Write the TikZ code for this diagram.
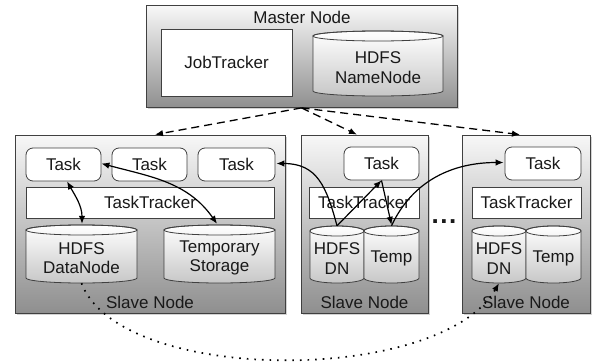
\documentclass[tikz,border=0pt]{standalone}
\usepackage{fontspec}
\setmainfont{Liberation Sans}
\usetikzlibrary{arrows.meta,shadows,calc}
\definecolor{edge}{gray}{0.25}
\definecolor{boxtop}{gray}{0.97}
\definecolor{boxbot}{gray}{0.56}
\definecolor{cyltop}{gray}{1}
\definecolor{cylbot}{gray}{0.78}
\definecolor{txt}{gray}{0.1}
\tikzset{
  every node/.style={font=\fontsize{17}{19.5}\selectfont, text=txt},
  container/.style={draw=edge, line width=0.8pt, top color=boxtop, bottom color=boxbot,
    drop shadow={shadow xshift=1.5pt, shadow yshift=-1.5pt, opacity=0.35}, inner sep=0pt},
  taskbox/.style={draw=edge, line width=0.8pt, fill=white, rounded corners=7pt, inner sep=0pt,
    minimum height=33pt},
  ttbox/.style={draw=edge, line width=0.8pt, fill=white, inner sep=0pt, minimum height=31pt},
  cylbody/.style={draw=edge, line width=0.8pt, top color=cyltop, bottom color=cylbot},
  cyltext/.style={align=center, inner sep=0pt},
  tipstyle/.style={-{Latex[length=8pt,width=6.5pt]}},
  dasharrow/.style={tipstyle, line width=1.3pt, dash pattern=on 8pt off 5pt, draw=black},
  solidarrow/.style={tipstyle, line width=1.2pt, draw=black},
  biarrow/.style={{Latex[length=8pt,width=6.5pt]}-{Latex[length=8pt,width=6.5pt]}, line width=1.2pt, draw=black},
  dotarrow/.style={tipstyle, line width=1.7pt, dash pattern=on 1.6pt off 6pt, draw=black},
}
% #1 name, #2 left, #3 top, #4 right, #5 bottom, #6 text
\newcommand\dbcyl[6]{%
  \path[cylbody] (#2,#3+5) -- (#2,#5-5)
    arc[start angle=180,end angle=0,x radius={(#4-#2)/2},y radius=5]
    -- (#4,#3+5)
    arc[start angle=0,end angle=-180,x radius={(#4-#2)/2},y radius=5] -- cycle;
  \draw[draw=edge, line width=0.8pt] ({(#2+#4)/2},#3+5) ellipse[x radius={(#4-#2)/2}, y radius=5];
  \node[cyltext, minimum width={(#4-#2)*1pt}, minimum height={(#5-#3)*1pt}] (#1) at ({(#2+#4)/2},{(#3+#5)/2}) {};
  \node[cyltext] (#1-label) at ({(#2+#4)/2},{(#3+#5)/2+4}) {#6};
}
\begin{document}
\begin{tikzpicture}[x=1pt,y=-1pt]
\useasboundingbox (0,0) rectangle (592,364);

% Master
\node[container, minimum width=311pt, minimum height=102pt] (m) at (301.5,56.5) {};
\node (mlabel) at (302,17) {Master Node};
\node[ttbox, minimum width=131pt, minimum height=67pt] (jt) at (226.5,62.5) {JobTracker};
\dbcyl{nn}{313}{31}{443}{96}{HDFS\\NameNode}

% Slave containers
\node[container, minimum width=270pt, minimum height=178pt] (s1) at (150,224) {};
\node[container, minimum width=127pt, minimum height=178pt] (s2) at (364.5,224) {};
\node[container, minimum width=128pt, minimum height=178pt] (s3) at (526,224) {};
\node (s1label) at (150,302) {Slave Node};
\node (s2label) at (364.5,302) {Slave Node};
\node (s3label) at (526,302) {Slave Node};

% Slave 1
\node[taskbox, minimum width=75pt] (t1) at (63.5,164.5) {Task};
\node[taskbox, minimum width=75pt] (t2) at (149.5,164.5) {Task};
\node[taskbox, minimum width=77pt] (t3) at (236.5,164.5) {Task};
\node[ttbox, minimum width=248pt] (tt1) at (150,202.5) {TaskTracker};
\dbcyl{dn1}{26}{225}{137}{283}{HDFS\\DataNode}
\dbcyl{temp1}{164}{225}{275}{283}{Temporary\\Storage}

% Slave 2
\node[taskbox, minimum width=75pt] (ts2) at (381.5,163.5) {Task};
\node[ttbox, minimum width=110pt] (tt2) at (364,202.5) {TaskTracker};
\dbcyl{dn2}{310}{226}{364}{283}{HDFS\\DN}
\dbcyl{temp2}{364}{226}{419}{283}{Temp}

% Slave 3
\node[taskbox, minimum width=76pt] (ts3) at (543,163.5) {Task};
\node[ttbox, minimum width=109pt] (tt3) at (526.5,202.5) {TaskTracker};
\dbcyl{dn3}{472}{226}{526}{283}{HDFS\\DN}
\dbcyl{temp3}{526}{226}{581}{283}{Temp}

% dots
\node[font=\fontsize{26}{26}\bfseries\selectfont, inner sep=0pt] (dots) at (444,222) {.\kern1.6pt.\kern1.6pt.};

% dashed arrows from master
\draw[dasharrow] (m.south) -- ($(s1.north)+(5,0)$);
\draw[dasharrow] (m.south) -- ($(s2.north)+(-7.5,0)$);
\draw[dasharrow] (m.south) -- ($(s3.north)+(-6,0)$);

% solid arrows
\draw[biarrow] ($(t1.south)+(3.5,0)$) to[out=-60,in=90] ($(dn1.north)+(0.5,-1)$);
\draw[biarrow] ($(t1.east)+(0,-1)$) to[out=-15,in=125] ($(temp1.north)+(-2.5,-1)$);
\draw[solidarrow] (dn2.north) to[out=105,in=0,looseness=1.2] ($(t3.east)+(1,-1)$);
\draw[solidarrow] (dn2.north) -- (ts2.south);
\draw[solidarrow] (ts2.south) -- ($(temp2.north)+(0,-1)$);
\draw[solidarrow] (temp2.north) to[out=65,in=180] ($(ts3.west)+(-1,-1)$);

% dotted arrow
\draw[dotarrow] (dn1.south) .. controls (120,385) and (440,385) .. (dn3.south);
\end{tikzpicture}
\end{document}
